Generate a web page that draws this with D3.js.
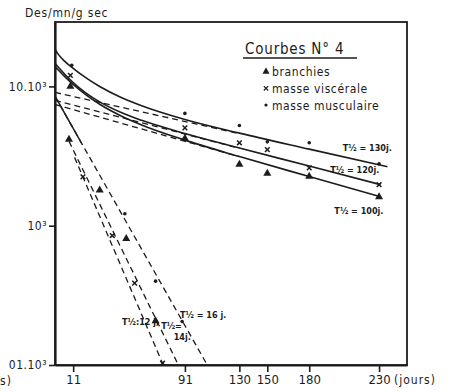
<!DOCTYPE html>
<html>
<head>
<meta charset="utf-8">
<script src="https://cdn.jsdelivr.net/npm/d3@7"></script>
<style>
  body { margin: 0; background: #fff; }
  text { font-family: 'DejaVu Sans Condensed', 'DejaVu Sans', sans-serif; fill: #1c1c1c; }
</style>
</head>
<body>
<script>
let w = 454;
let h = 392;

// axes
let dayTicks = [11, 91, 130, 150, 180, 230];
let yTicks = [10000, 1000, 100];
let yTickLabels = ['10.10³', '10³', '01.10³'];

let seriesNames = ['branchies', 'masse viscérale', 'masse musculaire'];

// measured points [jour, Des/mn/g sec]
let branchPts = [[9, 10000], [91, 4230], [130, 2750], [150, 2370], [180, 2260], [230, 1610],
                 [8, 4160], [30, 1800], [49, 806], [70, 207]];
let viscPts = [[9, 12000], [91, 5040], [130, 3940], [150, 3520], [180, 2600], [230, 1970],
               [18, 2240], [39, 850], [55, 387], [75, 103]];
let muscPts = [[10, 14200], [91, 6400], [130, 5240], [150, 4000], [180, 3940], [230, 2780],
               [48, 1220], [70, 400], [89, 205]];

// total curves (solid)
let branchCurve = [[-2, 13910], [0, 13230], [5, 11750], [11, 10330], [20, 8720], [30, 7440],
                   [45, 6160], [60, 5290], [91, 4115], [130, 3135], [180, 2254], [231, 1615]];
let viscCurve = [[-2, 14670], [0, 13880], [5, 12220], [11, 10670], [20, 8990], [30, 7740],
                 [45, 6515], [60, 5710], [91, 4590], [130, 3610], [180, 2680], [231, 1972]];
let muscCurve = [[-2, 18500], [0, 17200], [5, 15120], [11, 13470], [20, 11550], [30, 9980],
                 [45, 8360], [60, 7270], [91, 5790], [130, 4620], [180, 3545], [236, 2650]];

// slow component, extrapolated to t = 0 (dashed)
let branchSlow = [[-2, 7420], [130, 3130]];
let viscSlow = [[-2, 7930], [130, 3605]];
let muscSlow = [[-2, 9050], [130, 4580]];

// fast component (dashed)
let branchFast = [[8, 4040], [86.3, 100]];
let viscFast = [[12, 3094], [75.5, 100]];
let muscFast = [[-2, 8500], [107, 100]];

let halfLifeLabels = ['T½ = 130j.', 'T½ = 120j.', 'T½ = 100j.', 'T½ = 16 j.', 'T½:12 j,', 'T½=', '14j.'];

let svg = d3.select('body')
  .append('svg')
  .attr('width', w)
  .attr('height', h);

svg.append('rect').attr('width', w).attr('height', h).attr('fill', '#fff');

let x = d3.scaleLinear().domain([-2, 250]).range([55, 407]);
let y = d3.scaleLog().domain([100, 29000]).range([365, 22]);

svg.append('defs').append('clipPath').attr('id', 'plot')
  .append('rect')
  .attr('x', x(-2)).attr('y', y(29000))
  .attr('width', x(250) - x(-2)).attr('height', y(100) - y(29000));

svg.select('defs').append('clipPath').attr('id', 'early')
  .append('rect')
  .attr('x', x(-2)).attr('y', y(29000))
  .attr('width', x(17) - x(-2)).attr('height', y(100) - y(29000));

let ink = '#1c1c1c';
let line = d3.line().x((d) => x(d[0])).y((d) => y(d[1]));
let curve = d3.line().x((d) => x(d[0])).y((d) => y(d[1])).curve(d3.curveMonotoneX);

let plot = svg.append('g').attr('clip-path', 'url(#plot)');

// dashed components
[branchSlow, viscSlow, muscSlow, branchFast, viscFast, muscFast].forEach((d) => {
  plot.append('path')
    .attr('d', line(d))
    .attr('fill', 'none')
    .attr('stroke', ink)
    .attr('stroke-width', 1.3)
    .attr('stroke-dasharray', '6,4');
});

// first part of the 16 j line is drawn solid
plot.append('path')
  .attr('d', line(muscFast))
  .attr('clip-path', 'url(#early)')
  .attr('fill', 'none')
  .attr('stroke', ink)
  .attr('stroke-width', 1.5);

// total curves
[branchCurve, viscCurve, muscCurve].forEach((d) => {
  plot.append('path')
    .attr('d', curve(d))
    .attr('fill', 'none')
    .attr('stroke', ink)
    .attr('stroke-width', 1.6);
});

// markers
let tri = d3.symbol(d3.symbolTriangle, 28);
let cross = d3.symbol(d3.symbolX, 16);

svg.selectAll('.tri')
  .data(branchPts)
  .enter()
  .append('path')
  .attr('class', 'tri')
  .attr('d', tri)
  .attr('transform', (d) => 'translate(' + x(d[0]) + ',' + y(d[1]) + ')')
  .attr('fill', ink);

svg.selectAll('.cross')
  .data(viscPts)
  .enter()
  .append('path')
  .attr('class', 'cross')
  .attr('d', cross)
  .attr('transform', (d) => 'translate(' + x(d[0]) + ',' + y(d[1]) + ')')
  .attr('fill', 'none')
  .attr('stroke', ink)
  .attr('stroke-width', 1.5);

svg.selectAll('.dot')
  .data(muscPts)
  .enter()
  .append('circle')
  .attr('class', 'dot')
  .attr('cx', (d) => x(d[0]))
  .attr('cy', (d) => y(d[1]))
  .attr('r', 1.8)
  .attr('fill', ink);

// frame
svg.append('rect')
  .attr('x', x(-2)).attr('y', y(29000))
  .attr('width', x(250) - x(-2)).attr('height', y(100) - y(29000))
  .attr('fill', 'none')
  .attr('stroke', ink)
  .attr('stroke-width', 1.8);

// axes
let xAxis = svg.append('g')
  .attr('transform', 'translate(0,' + y(100) + ')')
  .call(d3.axisBottom(x).tickValues(dayTicks).tickSize(7).tickSizeOuter(0).tickPadding(3));

let yAxis = svg.append('g')
  .attr('transform', 'translate(' + x(-2) + ',0)')
  .call(d3.axisLeft(y).tickValues(yTicks).tickSize(6).tickSizeOuter(0).tickPadding(2)
    .tickFormat((d, i) => yTickLabels[i]));

[xAxis, yAxis].forEach((g) => {
  g.select('.domain').attr('stroke', ink).attr('stroke-width', 2.2);
  g.selectAll('.tick line').attr('stroke', ink).attr('stroke-width', 1.6);
  g.selectAll('.tick text')
    .attr('fill', ink)
    .attr('font-family', "'DejaVu Sans Condensed', 'DejaVu Sans', sans-serif")
    .attr('font-size', '13px');
});
yAxis.selectAll('.tick text').attr('font-size', '12px').attr('letter-spacing', '0.5px');

svg.append('text')
  .attr('x', 25).attr('y', 17)
  .attr('font-size', '12px')
  .attr('letter-spacing', '0.8px')
  .text('Des/mn/g sec');

svg.append('text')
  .attr('x', 394).attr('y', 384)
  .attr('font-size', '12px')
  .attr('letter-spacing', '1px')
  .text('(jours)');

// remnant of a neighbouring label at the left edge
svg.append('text')
  .attr('x', 0).attr('y', 385)
  .attr('font-size', '12px')
  .attr('letter-spacing', '1px')
  .text('s)');

// legend
svg.append('text')
  .attr('x', 245).attr('y', 54)
  .attr('font-size', '15px')
  .attr('letter-spacing', '0.8px')
  .text('Courbes N° 4');
svg.append('line')
  .attr('x1', 243).attr('x2', 357)
  .attr('y1', 58).attr('y2', 58)
  .attr('stroke', ink).attr('stroke-width', 1.4);

let legendY = [71.7, 88.3, 105];
let legend = svg.selectAll('.legend')
  .data(seriesNames)
  .enter()
  .append('g')
  .attr('class', 'legend')
  .attr('transform', (d, i) => 'translate(266,' + legendY[i] + ')');

legend.append('text')
  .attr('x', 6).attr('y', 4.5)
  .attr('font-size', '12px')
  .attr('letter-spacing', '0.6px')
  .text((d) => d);

legend.filter((d, i) => i === 0).append('path').attr('d', d3.symbol(d3.symbolTriangle, 22)).attr('fill', ink);
legend.filter((d, i) => i === 1).append('path').attr('d', d3.symbol(d3.symbolX, 14))
  .attr('fill', 'none').attr('stroke', ink).attr('stroke-width', 1.2);
legend.filter((d, i) => i === 2).append('circle').attr('r', 1.6).attr('fill', ink);

// half-life notes
let notePos = [[204, 3464], [195, 2406], [198, 1220], [87.5, 218], [46, 194], [74, 182], [83, 151]];
svg.selectAll('.note')
  .data(halfLifeLabels)
  .enter()
  .append('text')
  .attr('class', 'note')
  .attr('x', (d, i) => x(notePos[i][0]))
  .attr('y', (d, i) => y(notePos[i][1]))
  .attr('font-size', '9px')
  .attr('font-weight', 'bold')
  .text((d) => d);
</script>
</body>
</html>
